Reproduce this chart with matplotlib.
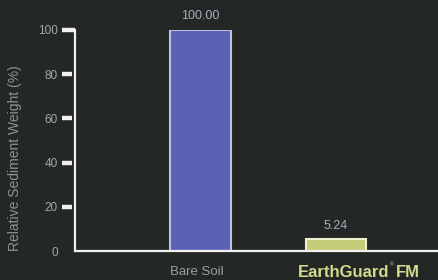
import matplotlib
matplotlib.use("Agg")
import matplotlib.pyplot as plt
import matplotlib.transforms as mtrans

categories = ["Bare Soil", "EarthGuard FM"]
values = [100.00, 5.24]
value_labels = ["100.00", "5.24"]
yticks = [0, 20, 40, 60, 80, 100]

W, H = 439, 280
bg = "#232725"
plt.rcParams['font.family'] = ['Liberation Sans', 'DejaVu Sans']
fig = plt.figure(figsize=(W / 100, H / 100), dpi=100, facecolor=bg)
ax = fig.add_axes([75 / W, 1 - 251 / H, 1 - 75 / W, (251 - 30) / H])
ax.set_facecolor(bg)

x = [0, 1]
ax.bar(x[0], values[0], width=0.45, color="#5a63b3", edgecolor="#b8bfe8", linewidth=1.5, zorder=2)
ax.bar(x[1], values[1], width=0.45, color="#c4cc78", edgecolor="#eef0d0", linewidth=1.5, zorder=2)
for xi, v, lab in zip(x, values, value_labels):
    ax.text(xi, v + 3.5, lab, ha="center", va="bottom", color="#a9b0c0", fontsize=9)

ax.set_xlim(-0.926, 1.76)
ax.set_ylim(0, 100)
ax.set_yticks(yticks)
ax.set_yticklabels([str(t) for t in yticks], color="#a3a7a5", fontsize=8.5)
ax.tick_params(axis="y", length=0, pad=12.5)
ax.set_xticks([])

# custom tick marks with a gap to the spine (the 100 tick meets the spine)
blend = mtrans.blended_transform_factory(ax.transAxes, ax.transData)
axw = 1 - 75 / W
px = lambda p: p / (W * axw)
for t in yticks[1:]:
    x1 = 0 if t == 100 else -px(3)
    ax.plot([-px(13), x1], [t, t], color="#f0f0f0", lw=3.2, solid_capstyle="butt",
            transform=blend, clip_on=False, zorder=3)

for s in ["top", "right"]:
    ax.spines[s].set_visible(False)
ax.spines["left"].set_color("#f0f0f0")
ax.spines["left"].set_linewidth(1.6)
ax.spines["bottom"].set_color("#f0f0f0")
ax.spines["bottom"].set_linewidth(1.6)

ax.text(x[0] - 0.03, -7, categories[0], ha="center", va="top", color="#9a9e9c", fontsize=9.5)

green = "#d3da8e"
fig.text(298 / W, 1 - 277 / H, "EarthGuard", ha="left", va="baseline", color=green,
         fontsize=12, fontweight="bold")
fig.text(389.5 / W, 1 - 266 / H, "\u00ae", ha="left", va="baseline", color=green,
         fontsize=3.5)
fig.text(396 / W, 1 - 277 / H, "FM", ha="left", va="baseline", color=green,
         fontsize=12, fontweight="bold")

fig.text(15 / W, 1 - 158 / H, "Relative Sediment Weight (%)", rotation=90, ha="center",
         va="center", color="#8e9290", fontsize=10)

fig.savefig("out.png", dpi=100, facecolor=bg)
